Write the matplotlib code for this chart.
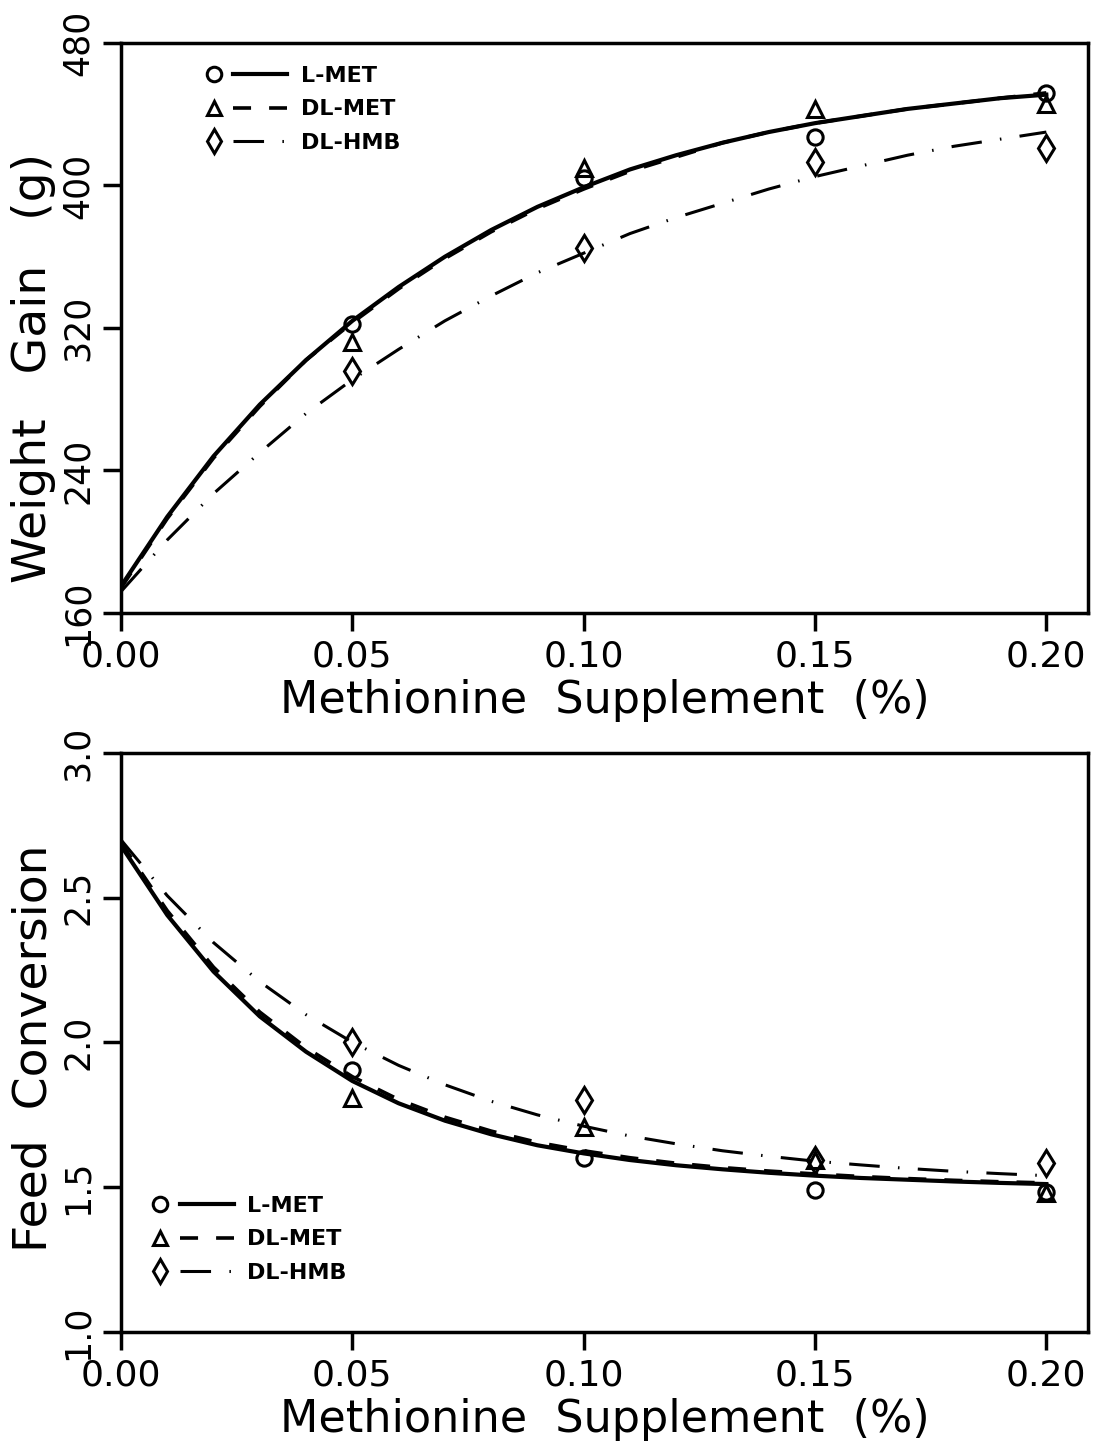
import matplotlib.pyplot as plt
from matplotlib.lines import Line2D
from matplotlib.legend_handler import HandlerBase
from matplotlib.ticker import FormatStrFormatter

# observed means
dose = [0.05, 0.10, 0.15, 0.20]
gain_lmet = [322, 404, 427, 452]
gain_dlmet = [312, 410, 443, 446]
gain_dlhmb = [296, 365, 413, 421]

fc_lmet = [1.905, 1.601, 1.49, 1.483]
fc_dlmet = [1.808, 1.708, 1.594, 1.48]
fc_dlhmb = [2.0, 1.80, 1.594, 1.584]

# fitted response curves
curve_x = [0.00, 0.01, 0.02, 0.03, 0.04, 0.05, 0.06, 0.07, 0.08, 0.09, 0.10,
           0.11, 0.12, 0.13, 0.14, 0.15, 0.16, 0.17, 0.18, 0.19, 0.20]
gain_fit_lmet = [175, 214, 248, 277, 302, 324, 343, 360, 375, 388, 399,
                 409, 417, 424, 430, 435, 439, 443, 446, 449, 451]
gain_fit_dlmet = [174, 213, 247, 276, 302, 323, 342, 359, 374, 387, 398,
                  408, 416, 424, 430, 435, 439, 443, 446, 449, 452]
gain_fit_dlhmb = [172, 201, 227, 250, 272, 291, 308, 324, 338, 351, 362,
                  373, 382, 390, 398, 405, 411, 417, 422, 426, 430]

fc_fit_lmet = [2.68, 2.44, 2.245, 2.09, 1.968, 1.867, 1.79, 1.73, 1.683, 1.645, 1.617,
               1.594, 1.576, 1.562, 1.55, 1.54, 1.532, 1.526, 1.52, 1.515, 1.511]
fc_fit_dlmet = [2.69, 2.455, 2.26, 2.105, 1.982, 1.882, 1.803, 1.742, 1.694, 1.655, 1.626,
                1.602, 1.583, 1.568, 1.556, 1.546, 1.537, 1.53, 1.524, 1.519, 1.515]
fc_fit_dlhmb = [2.70, 2.507, 2.345, 2.21, 2.096, 2.001, 1.921, 1.854, 1.797, 1.75, 1.711,
                1.677, 1.65, 1.626, 1.607, 1.59, 1.577, 1.565, 1.555, 1.547, 1.54]

labels = ["L-MET", "DL-MET", "DL-HMB"]
markers = ["o", "^", "d"]
msizes = [11, 11, 13]
styles = [dict(linestyle="-", linewidth=3.0),
          dict(linestyle=(0, (5, 5)), linewidth=2.6),
          dict(linestyle=(0, (10, 6, 0.5, 6)), linewidth=2.2)]


class MarkerThenLine(HandlerBase):
    # marker on the left, line segment to its right
    def create_artists(self, legend, orig, xd, yd, width, height, fontsize, trans):
        y = height / 2 - yd
        x0 = -xd
        mk = Line2D([x0 + 0.08 * width], [y])
        mk.update_from(orig)
        mk.set_linestyle("none")
        ln = Line2D([x0 + 0.32 * width, x0 + width], [y, y])
        ln.update_from(orig)
        ln.set_marker("none")
        mk.set_transform(trans)
        ln.set_transform(trans)
        return [ln, mk]


def draw_panel(ax, pts, fits, ylim, yticks, yfmt, ylabel, ylabel_y, legend_anchor):
    handles = []
    for p, f, lab, m, ms, st in zip(pts, fits, labels, markers, msizes, styles):
        ax.plot(curve_x, f, color="black", zorder=2, **st)
        ax.plot(dose, p, linestyle="none", marker=m, markersize=ms, mfc="none",
                mec="black", mew=2.2, zorder=3)
        handles.append(Line2D([], [], color="black", marker=m, markersize=ms * 0.95,
                              mfc="none", mec="black", mew=2.2, **st))
    ax.set_xlim(0, 0.209)
    ax.set_ylim(*ylim)
    ax.set_xticks([0.00, 0.05, 0.10, 0.15, 0.20])
    ax.set_yticks(yticks)
    ax.xaxis.set_major_formatter(FormatStrFormatter("%.2f"))
    ax.yaxis.set_major_formatter(FormatStrFormatter(yfmt))
    ax.tick_params(direction="out", length=13, width=2.5, pad=6)
    ax.tick_params(axis="x", labelsize=26)
    ax.tick_params(axis="y", labelsize=25, labelrotation=90, pad=6)
    for lab in ax.get_yticklabels():
        lab.set_va("center")
        lab.set_ha("right")
    for s in ax.spines.values():
        s.set_linewidth(2.5)
    ax.set_xlabel("Methionine  Supplement  (%)", fontsize=32, labelpad=4)
    ax.set_ylabel(ylabel, fontsize=34)
    ax.yaxis.set_label_coords(-0.067, ylabel_y)
    ax.legend(handles, labels, handler_map={Line2D: MarkerThenLine()},
              loc="upper left", bbox_to_anchor=legend_anchor, frameon=False,
              prop=dict(size=16, weight="bold"), handlelength=3.6,
              handletextpad=0.6, labelspacing=0.6, borderaxespad=0)


fig = plt.figure(figsize=(10.94, 14.48), dpi=100)
ax1 = fig.add_axes([0.1106, 0.5767, 0.8839, 0.3936])
ax2 = fig.add_axes([0.1106, 0.0801, 0.8839, 0.3999])

draw_panel(ax1, [gain_lmet, gain_dlmet, gain_dlhmb],
           [gain_fit_lmet, gain_fit_dlmet, gain_fit_dlhmb],
           (160, 480), [160, 240, 320, 400, 480], "%d",
           "Weight   Gain   (g)", 0.43, (0.08, 0.975))
draw_panel(ax2, [fc_lmet, fc_dlmet, fc_dlhmb],
           [fc_fit_lmet, fc_fit_dlmet, fc_fit_dlhmb],
           (1.0, 3.0), [1.0, 1.5, 2.0, 2.5, 3.0], "%.1f",
           "Feed  Conversion", 0.49, (0.025, 0.25))

fig.savefig("out.png", dpi=100)
